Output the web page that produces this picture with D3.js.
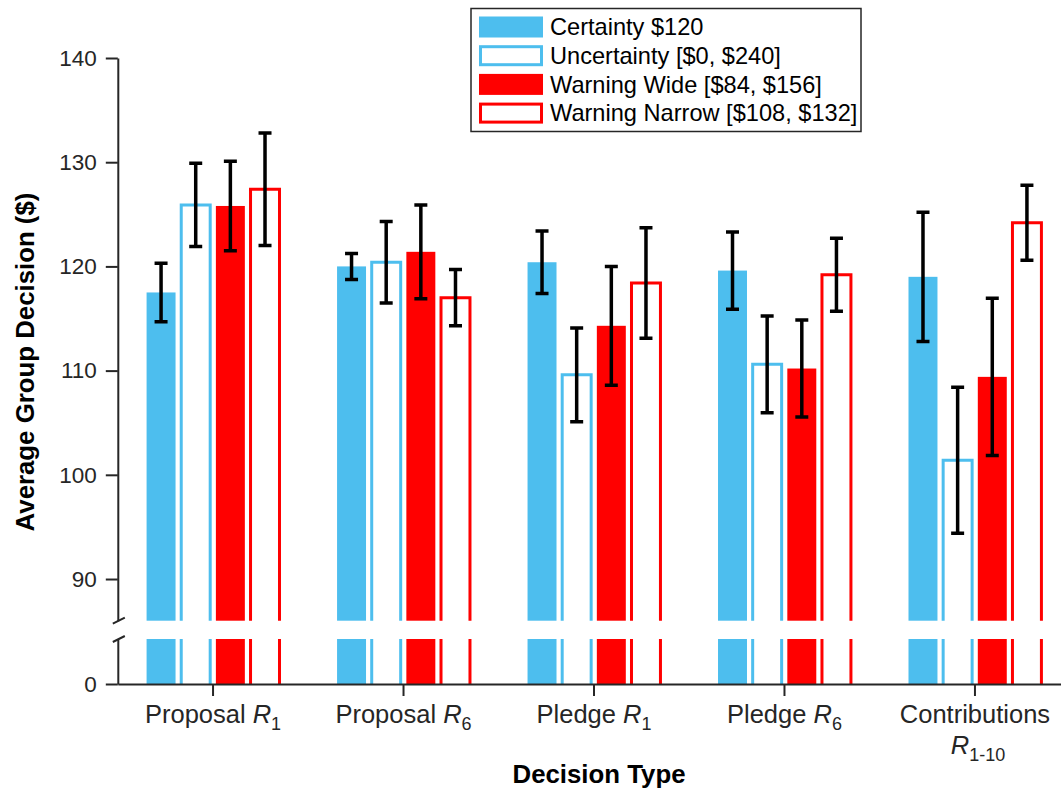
<!DOCTYPE html>
<html>
<head>
<meta charset="utf-8">
<script src="https://cdn.jsdelivr.net/npm/d3@7"></script>
<style>
  body { margin: 0; background: #fff; }
  svg { display: block; font-family: "Liberation Sans", Arial, Helvetica, sans-serif; }
</style>
</head>
<body>
<script>
// group labels
var categories = ["Proposal R1", "Proposal R6", "Pledge R1", "Pledge R6", "Contributions R1-10"];
var labelWords = ["Proposal", "Proposal", "Pledge", "Pledge", "Contributions"];
var labelSubs = ["1", "6", "1", "6", "1-10"];

// legend entries
var series = ["Certainty $120", "Uncertainty [$0, $240]", "Warning Wide [$84, $156]", "Warning Narrow [$108, $132]"];

// means and error bar half lengths
var certainty = [117.5, 120.0, 120.4, 119.6, 119.0];
var certaintyErr = [2.8, 1.25, 3.0, 3.7, 6.2];
var uncertainty = [125.9, 120.4, 109.6, 110.6, 101.4];
var uncertaintyErr = [4.0, 3.9, 4.5, 4.65, 7.0];
var warningWide = [125.8, 121.4, 114.3, 110.2, 109.4];
var warningWideErr = [4.3, 4.5, 5.7, 4.65, 7.55];
var warningNarrow = [127.4, 117.0, 118.4, 119.2, 124.2];
var warningNarrowErr = [5.4, 2.7, 5.3, 3.5, 3.6];

var upperTicks = [90, 100, 110, 120, 130, 140];
var lowerTicks = [0];
var breakValue = 86;

var width = 1061;
var height = 791;
var axisColor = "#262626";
var colors = ["#4dbeee", "#4dbeee", "#ff0000", "#ff0000"];
var filled = [true, false, true, false];

var means = [certainty, uncertainty, warningWide, warningNarrow];
var errs = [certaintyErr, uncertaintyErr, warningWideErr, warningNarrowErr];

var table = [];
for (var i = 0; i < categories.length; i++) {
  for (var j = 0; j < series.length; j++) {
    table.push({cat: categories[i], s: series[j], k: j, value: means[j][i], err: errs[j][i]});
  }
}

var svg = d3.select("body")
            .append("svg")
            .attr("width", width)
            .attr("height", height);

var xGroup = d3.scaleBand()
               .domain(categories)
               .range([117.8, 1070.2]);
var xSeries = d3.scaleBand()
                .domain(series)
                .range([-69.3, 69.3])
                .paddingInner(0.164)
                .paddingOuter(0.082);
var yHigh = d3.scaleLinear()
              .domain([breakValue, 140])
              .range([620.7, 58]);
var yLow = d3.scaleLinear()
             .domain([0, breakValue])
             .range([684, 639]);

function groupCenter(c) {
  return xGroup(c) + xGroup.bandwidth() / 2;
}
function barX(d) {
  return groupCenter(d.cat) + xSeries(d.s);
}
var bw = xSeries.bandwidth();

// bars, upper and lower segments
var bars = svg.append("g").attr("class", "bars");
table.forEach(function(d) {
  var x0 = barX(d);
  var col = colors[d.k];
  if (filled[d.k]) {
    bars.append("rect")
        .attr("x", x0).attr("width", bw)
        .attr("y", yHigh(d.value))
        .attr("height", yHigh(breakValue) - yHigh(d.value))
        .attr("fill", col);
    bars.append("rect")
        .attr("x", x0).attr("width", bw)
        .attr("y", yLow(breakValue))
        .attr("height", yLow(0) - yLow(breakValue))
        .attr("fill", col);
  } else {
    bars.append("path")
        .attr("d", "M" + x0 + "," + yHigh(breakValue) + "V" + yHigh(d.value) +
                   "H" + (x0 + bw) + "V" + yHigh(breakValue))
        .attr("fill", "#fff")
        .attr("stroke", col)
        .attr("stroke-width", 3);
    bars.append("path")
        .attr("d", "M" + x0 + "," + yLow(0) + "V" + yLow(breakValue) +
                   "M" + (x0 + bw) + "," + yLow(breakValue) + "V" + yLow(0))
        .attr("fill", "none")
        .attr("stroke", col)
        .attr("stroke-width", 3);
  }
});

// error bars
var errG = svg.append("g").attr("class", "errors")
              .attr("stroke", "#000")
              .attr("stroke-width", 3.5)
              .attr("fill", "none");
table.forEach(function(d) {
  var cx = barX(d) + bw / 2;
  var top = yHigh(d.value + d.err);
  var bot = yHigh(d.value - d.err);
  errG.append("path")
      .attr("d", "M" + cx + "," + top + "V" + bot +
                 "M" + (cx - 6.5) + "," + top + "H" + (cx + 6.5) +
                 "M" + (cx - 6.5) + "," + bot + "H" + (cx + 6.5));
});

// axes
var yAxisHigh = d3.axisLeft(yHigh).tickValues(upperTicks).tickSize(12).tickSizeOuter(0).tickPadding(9);
var yAxisLow = d3.axisLeft(yLow).tickValues(lowerTicks).tickSize(12).tickSizeOuter(0).tickPadding(9);
var xAxis = d3.axisBottom(xGroup).tickSize(12).tickSizeOuter(0).tickFormat("");

svg.append("g")
   .attr("class", "x-axis")
   .attr("transform", "translate(0," + yLow(0) + ")")
   .call(xAxis);
svg.append("g")
   .attr("class", "y-axis")
   .attr("transform", "translate(117.8,0)")
   .call(yAxisHigh);
svg.append("g")
   .attr("class", "y-axis")
   .attr("transform", "translate(117.8,0)")
   .call(yAxisLow);

svg.selectAll(".x-axis path, .x-axis line, .y-axis path, .y-axis line")
   .attr("stroke", axisColor)
   .attr("stroke-width", 2);
svg.selectAll(".y-axis text")
   .attr("fill", axisColor)
   .attr("font-size", 22.5)
   .attr("font-family", null);

// axis break marks
[yHigh(breakValue), yLow(breakValue)].forEach(function(yb) {
  svg.append("line")
     .attr("x1", 117.8 - 5).attr("y1", yb + 3)
     .attr("x2", 117.8 + 7).attr("y2", yb - 3)
     .attr("stroke", axisColor)
     .attr("stroke-width", 2);
});

// x tick labels
categories.forEach(function(c, i) {
  var cx = groupCenter(c);
  var t = svg.append("text")
             .attr("x", cx)
             .attr("y", 723)
             .attr("text-anchor", "middle")
             .attr("font-size", 25.5)
             .attr("fill", axisColor);
  var line2 = t;
  if (i == categories.length - 1) {
    t.text(labelWords[i]);
    line2 = svg.append("text")
               .attr("x", cx + 3)
               .attr("y", 754)
               .attr("text-anchor", "middle")
               .attr("font-size", 25.5)
               .attr("fill", axisColor);
  } else {
    t.append("tspan").text(labelWords[i] + " ");
  }
  line2.append("tspan").attr("font-style", "italic").text("R");
  line2.append("tspan").attr("dy", 7).attr("font-size", 18).text(labelSubs[i]);
});

// axis titles
svg.append("text")
   .attr("x", 599)
   .attr("y", 783)
   .attr("text-anchor", "middle")
   .attr("font-size", 25.8)
   .attr("font-weight", "bold")
   .attr("fill", "#000")
   .text("Decision Type");

svg.append("text")
   .attr("transform", "translate(34,362) rotate(-90)")
   .attr("text-anchor", "middle")
   .attr("font-size", 25.8)
   .attr("font-weight", "bold")
   .attr("fill", "#000")
   .text("Average Group Decision ($)");

// legend
var legend = svg.append("g").attr("class", "legend");
legend.append("rect")
      .attr("x", 471).attr("y", 8.5)
      .attr("width", 390).attr("height", 123)
      .attr("fill", "#fff")
      .attr("stroke", axisColor)
      .attr("stroke-width", 1.5);

series.forEach(function(s, k) {
  var cy = 27 + k * 28.7;
  if (filled[k]) {
    legend.append("rect")
          .attr("x", 479).attr("y", cy - 10.5)
          .attr("width", 64).attr("height", 21)
          .attr("fill", colors[k]);
  } else {
    legend.append("rect")
          .attr("x", 480.5).attr("y", cy - 9)
          .attr("width", 61).attr("height", 18)
          .attr("fill", "#fff")
          .attr("stroke", colors[k])
          .attr("stroke-width", 3);
  }
  legend.append("text")
        .attr("x", 550)
        .attr("y", cy)
        .attr("dy", "0.35em")
        .attr("font-size", 23.6)
        .attr("fill", "#000")
        .text(s);
});
</script>
</body>
</html>
